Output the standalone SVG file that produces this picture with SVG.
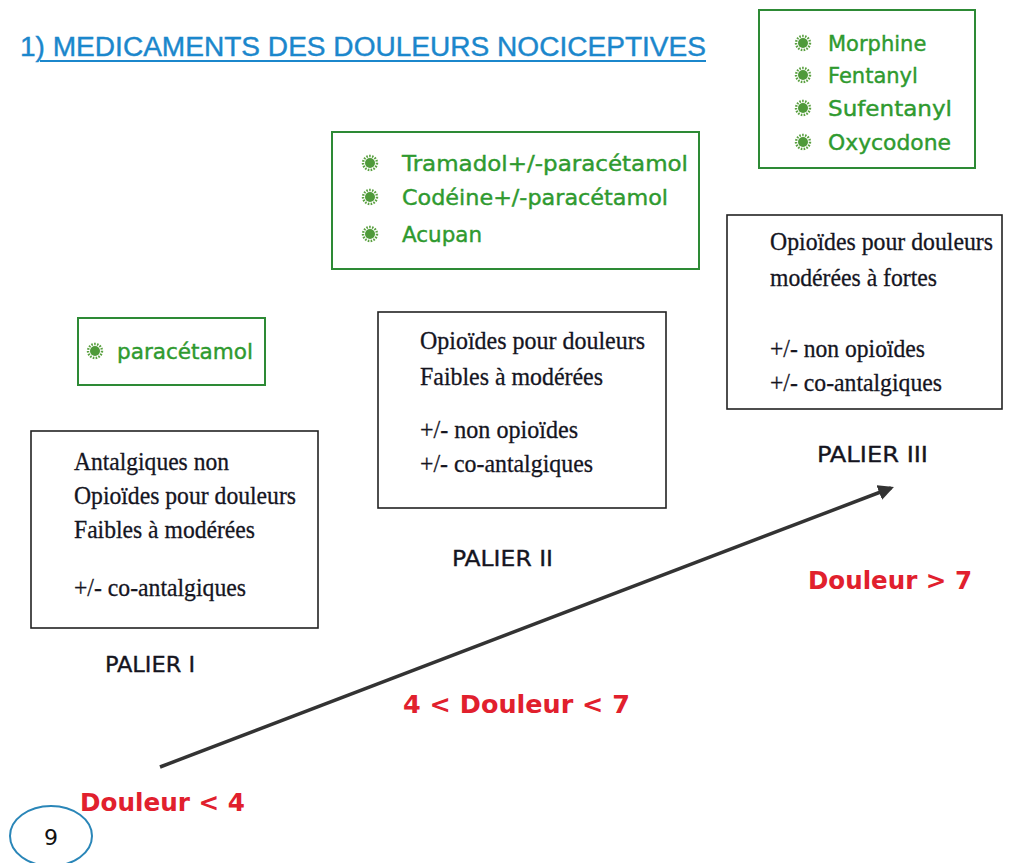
<svg xmlns="http://www.w3.org/2000/svg" width="1017" height="863" viewBox="0 0 1017 863">
<style>
.title{font-family:"Liberation Sans","DejaVu Sans",sans-serif;font-size:27px;fill:#1b87cc;stroke:#1b87cc;stroke-width:0.4}
.green{font-family:"DejaVu Sans","Liberation Sans",sans-serif;font-size:21px;fill:#2f9a2f;stroke:#2f9a2f;stroke-width:0.4}
.gbox{fill:#fff;stroke:#2d8a35;stroke-width:2}
.kbox{fill:#fff;stroke:#222;stroke-width:1.6}
.serif{font-family:"Liberation Serif","DejaVu Serif",serif;font-size:25px;fill:#15151f;stroke:#15151f;stroke-width:0.3}
.palier{font-family:"DejaVu Sans Condensed","Liberation Sans Narrow","Liberation Sans",sans-serif;font-size:21px;fill:#15151f;stroke:#15151f;stroke-width:0.3}
.red{font-family:"DejaVu Sans","Liberation Sans",sans-serif;font-size:24px;font-weight:bold;fill:#e1202d}
</style>
<defs>
<symbol id="bul" viewBox="-8 -8 16 16" overflow="visible">
<circle r="7" fill="none" stroke="#5aa040" stroke-width="2.4" stroke-dasharray="1.6 1.3"/>
<circle r="5" fill="#4f9a3a"/>
</symbol>
<marker id="ah" viewBox="0 0 10 10" refX="8" refY="5" markerWidth="4.5" markerHeight="4.5" orient="auto" markerUnits="strokeWidth">
<path d="M0,0 L10,5 L0,10 z" fill="#333"/>
</marker>
</defs>

<g id="title">
<text class="title" x="20" y="56" textLength="686" lengthAdjust="spacingAndGlyphs">1) MEDICAMENTS DES DOULEURS NOCICEPTIVES</text>
<line x1="40" y1="61" x2="706" y2="61" stroke="#1b87cc" stroke-width="2"/>
</g>

<g id="box-palier3-drugs">
<rect class="gbox" x="759" y="10" width="216" height="158"/>
<use href="#bul" x="795" y="35" width="16" height="16"/>
<text class="green" x="828" y="51">Morphine</text>
<use href="#bul" x="795" y="67" width="16" height="16"/>
<text class="green" x="828" y="83">Fentanyl</text>
<use href="#bul" x="795" y="100" width="16" height="16"/>
<text class="green" x="828" y="116" textLength="124" lengthAdjust="spacingAndGlyphs">Sufentanyl</text>
<use href="#bul" x="795" y="134" width="16" height="16"/>
<text class="green" x="828" y="150" textLength="123" lengthAdjust="spacingAndGlyphs">Oxycodone</text>
</g>

<g id="box-palier2-drugs">
<rect class="gbox" x="332" y="132" width="367" height="137"/>
<use href="#bul" x="362" y="155" width="16" height="16"/>
<text class="green" x="402" y="171" textLength="286" lengthAdjust="spacingAndGlyphs">Tramadol+/-paracétamol</text>
<use href="#bul" x="362" y="189" width="16" height="16"/>
<text class="green" x="402" y="205" textLength="266" lengthAdjust="spacingAndGlyphs">Codéine+/-paracétamol</text>
<use href="#bul" x="362" y="226" width="16" height="16"/>
<text class="green" x="402" y="242" textLength="80" lengthAdjust="spacingAndGlyphs">Acupan</text>
</g>

<g id="box-palier1-drugs">
<rect class="gbox" x="78" y="318" width="187" height="67"/>
<use href="#bul" x="87" y="343" width="16" height="16"/>
<text class="green" x="117" y="359" textLength="136" lengthAdjust="spacingAndGlyphs">paracétamol</text>
</g>

<g id="palier1">
<rect class="kbox" x="31" y="431" width="287" height="197"/>
<text class="serif" x="74" y="470" textLength="155" lengthAdjust="spacingAndGlyphs">Antalgiques non</text>
<text class="serif" x="74" y="504" textLength="222" lengthAdjust="spacingAndGlyphs">Opioïdes pour douleurs</text>
<text class="serif" x="74" y="538" textLength="181" lengthAdjust="spacingAndGlyphs">Faibles à modérées</text>
<text class="serif" x="74" y="596" textLength="172" lengthAdjust="spacingAndGlyphs">+/- co-antalgiques</text>
<text class="palier" x="105" y="672" textLength="90" lengthAdjust="spacingAndGlyphs">PALIER I</text>
</g>

<g id="palier2">
<rect class="kbox" x="378" y="312" width="288" height="196"/>
<text class="serif" x="420" y="349" textLength="225" lengthAdjust="spacingAndGlyphs">Opioïdes pour douleurs</text>
<text class="serif" x="420" y="385" textLength="183" lengthAdjust="spacingAndGlyphs">Faibles à modérées</text>
<text class="serif" x="420" y="438" textLength="158" lengthAdjust="spacingAndGlyphs">+/- non opioïdes</text>
<text class="serif" x="420" y="472" textLength="173" lengthAdjust="spacingAndGlyphs">+/- co-antalgiques</text>
<text class="palier" x="452" y="566" textLength="101" lengthAdjust="spacingAndGlyphs">PALIER II</text>
</g>

<g id="palier3">
<rect class="kbox" x="727" y="215" width="275" height="194"/>
<text class="serif" x="770" y="250" textLength="223" lengthAdjust="spacingAndGlyphs">Opioïdes pour douleurs</text>
<text class="serif" x="770" y="286" textLength="167" lengthAdjust="spacingAndGlyphs">modérées à fortes</text>
<text class="serif" x="770" y="357" textLength="155" lengthAdjust="spacingAndGlyphs">+/- non opioïdes</text>
<text class="serif" x="770" y="391" textLength="172" lengthAdjust="spacingAndGlyphs">+/- co-antalgiques</text>
<text class="palier" x="817" y="462" textLength="111" lengthAdjust="spacingAndGlyphs">PALIER III</text>
</g>

<g id="connectors">
<line x1="160" y1="767" x2="891" y2="488" stroke="#333" stroke-width="3.5" marker-end="url(#ah)"/>
</g>

<g id="labels">
<text class="red" x="808" y="589" textLength="164" lengthAdjust="spacingAndGlyphs">Douleur &gt; 7</text>
<text class="red" x="403" y="713" textLength="227" lengthAdjust="spacingAndGlyphs">4 &lt; Douleur &lt; 7</text>
<text class="red" x="80" y="811" textLength="165" lengthAdjust="spacingAndGlyphs">Douleur &lt; 4</text>
</g>

<g id="page-number">
<ellipse cx="51" cy="836" rx="41" ry="30" fill="#fff" stroke="#2a86b8" stroke-width="2"/>
<text x="51" y="845" text-anchor="middle" font-family="'DejaVu Sans','Liberation Sans',sans-serif" font-size="22" fill="#111">9</text>
</g>
</svg>
